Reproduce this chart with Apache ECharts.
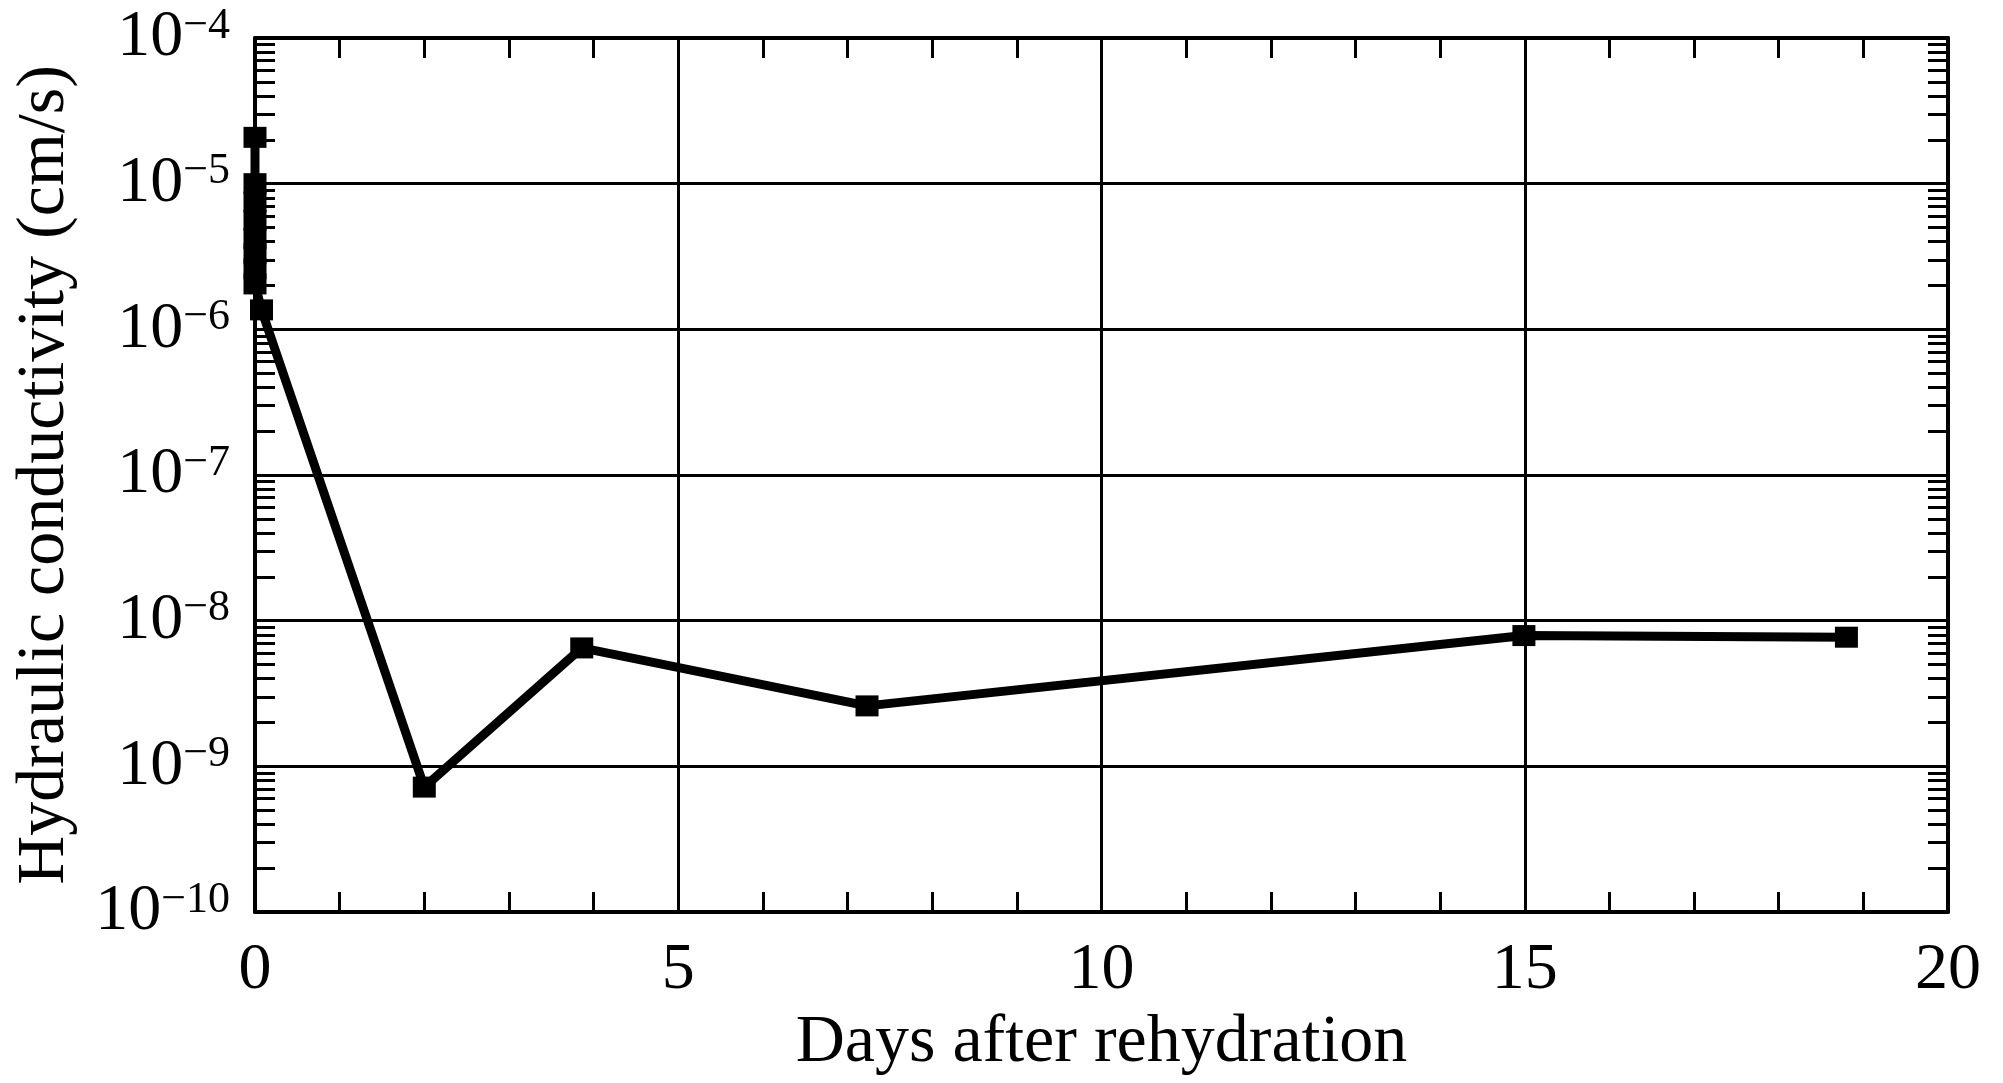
<!DOCTYPE html>
<html>
<head>
<meta charset="utf-8">
<script src="https://cdn.jsdelivr.net/npm/echarts@6/dist/echarts.min.js"></script>
<style>
html,body{margin:0;padding:0;background:#fff;}
#chart{width:2003px;height:1083px;}
</style>
</head>
<body>
<div id="chart"></div>
<script>
// Data
const days = [0, 0, 0, 0, 0, 0, 0, 0, 0.077, 2.0, 3.86, 7.23, 14.99, 18.8];
const conductivity = [2.08e-5, 1.0e-5, 7.5e-6, 5.6e-6, 4.2e-6, 3.3e-6, 2.6e-6, 2.05e-6, 1.36e-6, 7.2e-10, 6.5e-9, 2.6e-9, 7.9e-9, 7.7e-9];
const xTicks = [0, 5, 10, 15, 20];
const yDecades = [-10, -9, -8, -7, -6, -5, -4];
const minorMultipliers = [2, 3, 4, 5, 6, 7, 8, 9];

const minorValues = [];
for (let i = 0; i < yDecades.length - 1; i++) {
  for (const m of minorMultipliers) minorValues.push(m * Math.pow(10, yDecades[i]));
}
const seriesData = days.map((d, i) => [d, conductivity[i]]);

const FONT = "'Liberation Serif', 'Times New Roman', serif";
const BLACK = '#000';

const chart = echarts.init(document.getElementById('chart'));
chart.setOption({
  backgroundColor: '#fff',
  animation: false,
  grid: { left: 255, right: 55, top: 38, bottom: 171, containLabel: false },
  xAxis: [
    {
      type: 'value', position: 'bottom', min: xTicks[0], max: xTicks[xTicks.length - 1], interval: 5,
      name: 'Days after rehydration', nameLocation: 'middle', nameGap: 92,
      nameTextStyle: { fontFamily: FONT, fontSize: 68, color: BLACK },
      axisLine: { show: true, lineStyle: { color: BLACK, width: 4 } },
      axisTick: { show: true, inside: true, length: 20, lineStyle: { color: BLACK, width: 3 } },
      minorTick: { show: true, splitNumber: 5, length: 20, lineStyle: { color: BLACK, width: 3 } },
      splitLine: { show: true, lineStyle: { color: BLACK, width: 3 } },
      axisLabel: { fontFamily: FONT, fontSize: 66, color: BLACK, margin: 26 }
    },
    {
      type: 'value', position: 'top', min: xTicks[0], max: xTicks[xTicks.length - 1], interval: 5,
      axisLine: { show: true, lineStyle: { color: BLACK, width: 4 } },
      axisTick: { show: true, inside: true, length: 20, lineStyle: { color: BLACK, width: 3 } },
      minorTick: { show: true, splitNumber: 5, length: 20, lineStyle: { color: BLACK, width: 3 } },
      splitLine: { show: false },
      axisLabel: { show: false }
    }
  ],
  yAxis: [
    {
      type: 'log', logBase: 10, min: 1e-10, max: 1e-4, position: 'left',
      name: 'Hydraulic conductivity (cm/s)', nameLocation: 'middle', nameGap: 176,
      nameTextStyle: { fontFamily: FONT, fontSize: 68, color: BLACK },
      axisLine: { show: true, lineStyle: { color: BLACK, width: 4 } },
      axisTick: { show: false },
      splitLine: { show: true, lineStyle: { color: BLACK, width: 3 } },
      axisLabel: {
        margin: 25,
        formatter: function (v) {
          const e = Math.round(Math.log10(v));
          return '{b|10}{s|\u2212' + Math.abs(e) + '}';
        },
        rich: {
          b: { fontFamily: FONT, fontSize: 66, color: BLACK, lineHeight: 68, verticalAlign: 'middle' },
          s: { fontFamily: FONT, fontSize: 44, color: BLACK, lineHeight: 30, verticalAlign: 'top' }
        }
      }
    },
    {
      type: 'log', logBase: 10, min: 1e-10, max: 1e-4, position: 'left',
      axisLine: { show: false },
      axisTick: { show: true, inside: true, length: 20, customValues: minorValues, lineStyle: { color: BLACK, width: 3 } },
      splitLine: { show: false },
      axisLabel: { show: false }
    },
    {
      type: 'log', logBase: 10, min: 1e-10, max: 1e-4, position: 'right',
      axisLine: { show: true, lineStyle: { color: BLACK, width: 4 } },
      axisTick: { show: true, inside: true, length: 20, customValues: minorValues, lineStyle: { color: BLACK, width: 3 } },
      splitLine: { show: false },
      axisLabel: { show: false }
    }
  ],
  series: [
    {
      type: 'line', xAxisIndex: 0, yAxisIndex: 0,
      data: seriesData,
      symbol: 'rect', symbolSize: [23, 21],
      itemStyle: { color: BLACK },
      lineStyle: { color: BLACK, width: 9 },
      z: 5
    }
  ]
});
</script>
</body>
</html>
